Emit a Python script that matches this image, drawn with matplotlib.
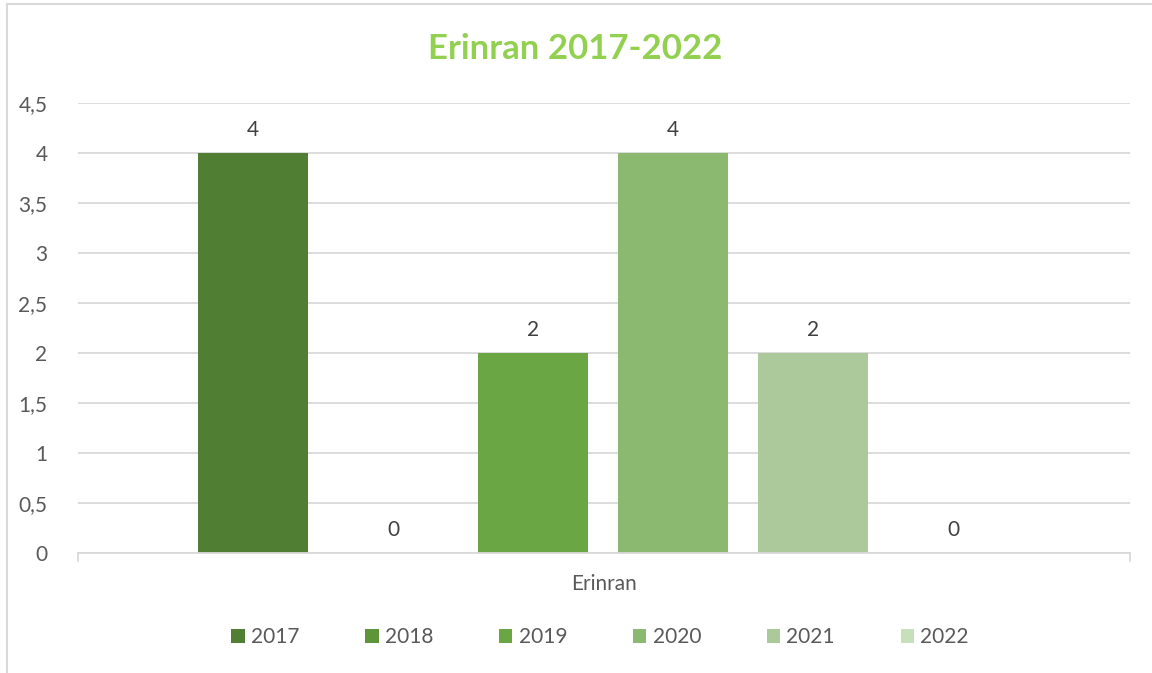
import matplotlib
matplotlib.use("Agg")
import matplotlib.pyplot as plt
from matplotlib.lines import Line2D
from matplotlib.patches import Patch

category = "Erinran"
years = ["2017", "2018", "2019", "2020", "2021", "2022"]
values = [4, 0, 2, 4, 2, 0]
colors = ["#507E32", "#5E9538", "#6BA644", "#8BB970", "#ABC99B", "#C8DFBC"]
yticks = [0, 0.5, 1, 1.5, 2, 2.5, 3, 3.5, 4, 4.5]
ytick_labels = ["0", "0,5", "1", "1,5", "2", "2,5", "3", "3,5", "4", "4,5"]
title = "Erinran 2017-2022"

plt.rcParams['font.family'] = ['Lato', 'DejaVu Sans']
W, H = 1152, 673
fig = plt.figure(figsize=(W / 100, H / 100), dpi=100)
# axes: x 78..1130, y 103(4.5)..553(0)
ax = fig.add_axes([78 / W, 1 - 553 / H, (1130 - 78) / W, 450 / H])

xs = list(range(len(years)))
ax.bar(xs, values, width=110 / 140, color=colors, zorder=3)
for x, v in zip(xs, values):
    ax.text(x, v + 0.13, str(v), ha="center", va="bottom", fontsize=15, color="#404040")

ax.set_xlim(-1.25, 6.264)
ax.set_ylim(0, 4.5)
ax.set_yticks(yticks)
ax.set_yticklabels(ytick_labels, fontsize=15, color="#595959")
ax.set_xticks([])
ax.tick_params(axis="y", length=0, pad=22)
ax.grid(axis="y", color="#D9D9D9", linewidth=1.3, zorder=0)
for s in ["top", "right", "left"]:
    ax.spines[s].set_visible(False)
ax.spines["bottom"].set_color("#D9D9D9")
ax.spines["bottom"].set_linewidth(1.3)
ax.spines["bottom"].set_zorder(4)
# end ticks on category axis
for xp in (78, 1130):
    fig.add_artist(Line2D([xp / W, xp / W], [1 - 553 / H, 1 - 561 / H], color="#D9D9D9", lw=1.3))

ax.text(0.5, -0.07, category, transform=ax.transAxes, ha="center", va="center",
        fontsize=15, color="#595959")

fig.text(575 / W, 1 - 49 / H, title, ha="center", va="center", fontsize=25,
         fontweight="bold", color="#92D050")

handles = [Patch(facecolor=c, edgecolor="none") for c in colors]
leg = fig.legend(handles, years, loc="center", bbox_to_anchor=(600 / W, 1 - 637 / H),
                 ncol=6, frameon=False, fontsize=15, handlelength=0.65, handleheight=0.65,
                 handletextpad=0.3, columnspacing=3.15, labelcolor="#595959")

# chart border remnants
fig.add_artist(Line2D([7 / W, 7 / W], [0, 1 - 4 / H], color="#D9D9D9", lw=1.5))
fig.add_artist(Line2D([7 / W, 1], [1 - 4 / H, 1 - 4 / H], color="#D9D9D9", lw=1.5))

fig.savefig("out.png", dpi=100)
